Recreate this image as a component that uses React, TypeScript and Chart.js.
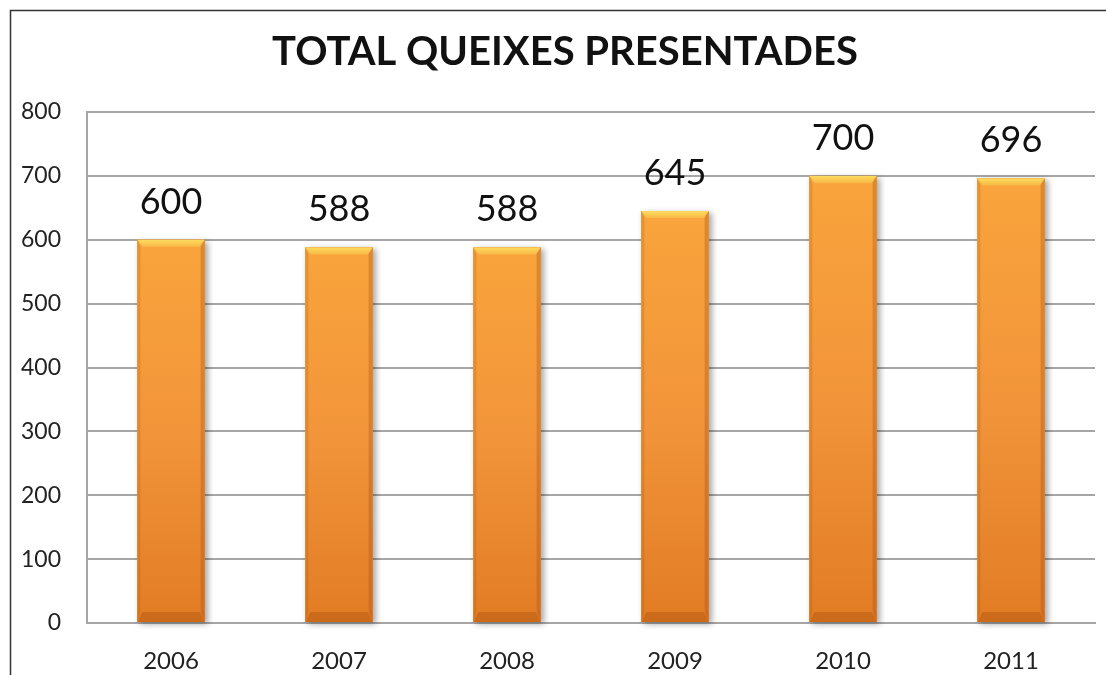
import React, { useEffect, useRef } from "react";
import { Chart, registerables } from "chart.js";

Chart.register(...registerables);

const titleText = "TOTAL QUEIXES PRESENTADES";
const categories = ["2006", "2007", "2008", "2009", "2010", "2011"];
const values = [600, 588, 588, 645, 700, 696];
const yMin = 0;
const yMax = 800;
const yStep = 100;

const FONT = "Lato, 'Open Sans', sans-serif";

const framePlugin = {
  id: "frame",
  afterDraw(chart: any) {
    const ctx = chart.ctx;
    ctx.save();
    ctx.strokeStyle = "#333";
    ctx.lineWidth = 1.5;
    ctx.beginPath();
    ctx.moveTo(10.5, chart.height);
    ctx.lineTo(10.5, 10.5);
    ctx.lineTo(chart.width, 10.5);
    ctx.stroke();
    // title
    ctx.fillStyle = "#111";
    ctx.font = `bold 40px ${FONT}`;
    ctx.textAlign = "center";
    ctx.textBaseline = "alphabetic";
    ctx.fillText(titleText, 565, 65);
    ctx.restore();
  },
};

const barStylePlugin = {
  id: "barStyle",
  beforeDatasetsDraw(chart: any) {
    const ctx = chart.ctx;
    const meta = chart.getDatasetMeta(0);
    ctx.save();
    meta.data.forEach((el: any) => {
      const { x, y, base, width } = el.getProps(["x", "y", "base", "width"], true);
      ctx.shadowColor = "rgba(0,0,0,0.35)";
      ctx.shadowBlur = 6;
      ctx.shadowOffsetX = 3;
      ctx.shadowOffsetY = 2;
      ctx.fillStyle = "#E88A2C";
      ctx.fillRect(x - width / 2, y, width, base - y);
    });
    ctx.restore();
  },
  afterDatasetsDraw(chart: any) {
    const ctx = chart.ctx;
    const meta = chart.getDatasetMeta(0);
    ctx.save();
    meta.data.forEach((el: any, i: number) => {
      const { x, y, base, width } = el.getProps(["x", "y", "base", "width"], true);
      const l = x - width / 2;
      const r = x + width / 2;
      const t = y;
      const b = base;
      const g = ctx.createLinearGradient(0, t, 0, b);
      g.addColorStop(0, "#F9A43C");
      g.addColorStop(0.5, "#F2953A");
      g.addColorStop(1, "#E27C24");
      ctx.fillStyle = g;
      ctx.fillRect(l, t, width, b - t);

      const tg = ctx.createLinearGradient(0, t, 0, t + 8);
      tg.addColorStop(0, "#FCDC5E");
      tg.addColorStop(1, "#F9B444");
      ctx.fillStyle = tg;
      ctx.beginPath();
      ctx.moveTo(l, t);
      ctx.lineTo(r, t);
      ctx.lineTo(r - 5, t + 7);
      ctx.lineTo(l + 5, t + 7);
      ctx.closePath();
      ctx.fill();

      ctx.fillStyle = "rgba(160,75,10,0.35)";
      ctx.beginPath();
      ctx.moveTo(l, b);
      ctx.lineTo(r, b);
      ctx.lineTo(r - 5, b - 10);
      ctx.lineTo(l + 5, b - 10);
      ctx.closePath();
      ctx.fill();

      ctx.fillStyle = "rgba(150,70,10,0.28)";
      ctx.beginPath();
      ctx.moveTo(r, t);
      ctx.lineTo(r, b);
      ctx.lineTo(r - 4, b - 10);
      ctx.lineTo(r - 4, t + 7);
      ctx.closePath();
      ctx.fill();

      ctx.fillStyle = "rgba(150,70,10,0.18)";
      ctx.beginPath();
      ctx.moveTo(l, t);
      ctx.lineTo(l, b);
      ctx.lineTo(l + 3, b - 10);
      ctx.lineTo(l + 3, t + 7);
      ctx.closePath();
      ctx.fill();

      ctx.fillStyle = "#111";
      ctx.font = `36px ${FONT}`;
      ctx.textAlign = "center";
      ctx.textBaseline = "alphabetic";
      ctx.fillText(String(values[i]), x, t - 26);
    });
    ctx.restore();
  },
};

export default function App() {
  const ref = useRef<HTMLCanvasElement | null>(null);

  useEffect(() => {
    if (!ref.current) return;
    const chart = new Chart(ref.current, {
      type: "bar",
      data: {
        labels: categories,
        datasets: [
          {
            data: values,
            backgroundColor: "#F2953A",
            borderWidth: 0,
            barPercentage: 0.4,
            categoryPercentage: 1,
          },
        ],
      },
      options: {
        responsive: false,
        animation: false,
        layout: { padding: { left: 0, right: 11, top: 112, bottom: 0 } },
        plugins: {
          legend: { display: false },
          tooltip: { enabled: false },
          title: { display: false },
        },
        scales: {
          x: {
            grid: { display: false },
            border: { display: true, color: "#a6a6a6", width: 2 },
            ticks: { color: "#222", font: { family: FONT, size: 24 }, padding: 16 },
            afterFit(scale: any) {
              scale.height = 52;
            },
          },
          y: {
            min: yMin,
            max: yMax,
            ticks: {
              stepSize: yStep,
              color: "#222",
              font: { family: FONT, size: 23 },
              padding: 26,
            },
            grid: { color: "#a6a6a6", lineWidth: 2, drawTicks: false },
            border: { display: true, color: "#a6a6a6", width: 2 },
            afterFit(scale: any) {
              scale.width = 87;
            },
          },
        },
      },
      plugins: [barStylePlugin, framePlugin],
    });
    return () => chart.destroy();
  }, []);

  return (
    <div style={{ position: "absolute", left: 0, top: 0, width: 1106, height: 675, background: "#fff" }}>
      <canvas ref={ref} width={1106} height={675} />
    </div>
  );
}
